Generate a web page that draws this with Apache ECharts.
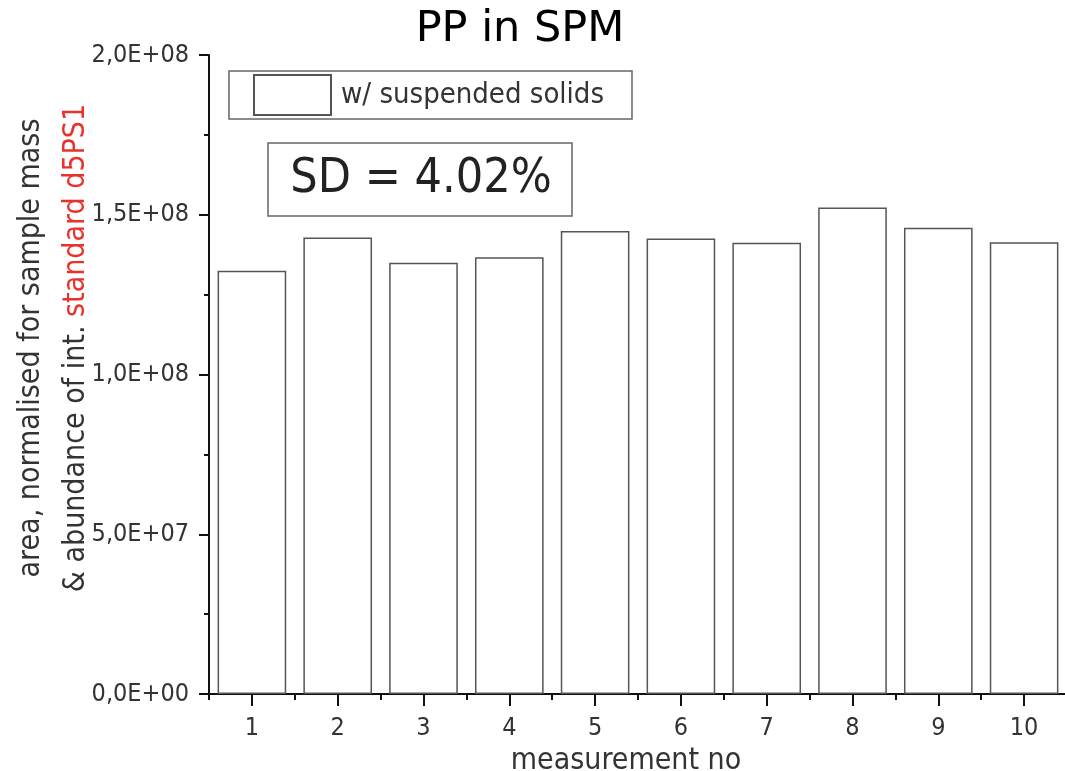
<!DOCTYPE html>
<html>
<head>
<meta charset="utf-8">
<script src="https://cdn.jsdelivr.net/npm/echarts@6/dist/echarts.min.js"></script>
<style>
    html, body { margin: 0; padding: 0; background: #fff; }
    #chart { width: 1065px; height: 771px; }
</style>
</head>
<body>
<div id="chart"></div>
<script>
var measurements = ['1', '2', '3', '4', '5', '6', '7', '8', '9', '10'];
var areas = [1.325e8, 1.429e8, 1.350e8, 1.367e8, 1.449e8, 1.426e8, 1.412e8, 1.523e8, 1.459e8, 1.414e8];
var seriesName = 'w/ suspended solids';
var sdText = 'SD = 4.02%';

var tickFont = "'DejaVu Sans Condensed', 'Liberation Sans Narrow', sans-serif";

function sciComma(v) {
    if (v === 0) return '0,0E+00';
    var e = Math.floor(Math.log10(v));
    var m = v / Math.pow(10, e);
    return m.toFixed(1).replace('.', ',') + 'E+' + (e < 10 ? '0' + e : e);
}

var chart = echarts.init(document.getElementById('chart'));

var option = {
    backgroundColor: '#fff',
    animation: false,
    title: {
        text: 'PP in SPM',
        left: 515,
        textAlign: 'center',
        top: 3,
        textStyle: {
            fontFamily: "'DejaVu Sans', sans-serif",
            fontWeight: 'normal',
            fontSize: 43,
            color: '#000'
        }
    },
    legend: {
        left: 229,
        top: 71,
        orient: 'horizontal',
        data: [seriesName],
        icon: 'rect',
        itemWidth: 77,
        itemHeight: 40,
        padding: [3, 28, 3, 24],
        borderColor: '#666',
        borderWidth: 1.5,
        textStyle: {
            fontFamily: tickFont,
            fontSize: 29,
            color: '#333',
            padding: [0, 0, 0, 5]
        }
    },
    grid: {
        left: 209,
        top: 55,
        width: 858,
        bottom: 77,
        outerBoundsMode: 'none'
    },
    xAxis: [{
        type: 'category',
        data: measurements,
        name: 'measurement no',
        nameLocation: 'middle',
        nameGap: 52,
        nameTextStyle: {
            fontFamily: tickFont,
            fontSize: 30,
            color: '#333',
            padding: [0, 24, 0, 0]
        },
        axisLine: { lineStyle: { color: '#111', width: 2 } },
        axisTick: { show: true, alignWithLabel: true, interval: 0, length: 12, lineStyle: { color: '#111', width: 2 } },
        axisLabel: {
            margin: 22,
            interval: 0,
            fontFamily: tickFont,
            fontSize: 25,
            color: '#333'
        }
    }, {
        // second category axis, only for the short ticks between categories
        type: 'category',
        data: measurements,
        position: 'bottom',
        axisLine: { show: false },
        axisTick: { show: true, interval: 0, length: 6, lineStyle: { color: '#111', width: 2 } },
        axisLabel: { show: false },
        splitLine: { show: false }
    }],
    yAxis: {
        type: 'value',
        min: 0,
        max: 2e8,
        interval: 5e7,
        axisLine: { show: true, lineStyle: { color: '#111', width: 2 } },
        axisTick: { show: true, length: 10, lineStyle: { color: '#111', width: 2 } },
        minorTick: { show: true, splitNumber: 2, length: 5, lineStyle: { color: '#111', width: 2 } },
        splitLine: { show: false },
        axisLabel: {
            margin: 20,
            fontFamily: tickFont,
            fontSize: 25,
            color: '#333',
            formatter: sciComma
        }
    },
    graphic: [{
        type: 'text',
        x: 54,
        y: 348,
        rotation: Math.PI / 2,
        style: {
            text: '{a|area, normalised for sample mass}\n{a|& abundance of int. }{r|standard d5PS1}',
            align: 'center',
            verticalAlign: 'middle',
            rich: {
                a: { fontFamily: tickFont, fontSize: 30, fill: '#333', lineHeight: 45 },
                r: { fontFamily: tickFont, fontSize: 30, fill: '#e8322b', lineHeight: 45 }
            }
        }
    }, {
        type: 'rect',
        shape: { x: 268, y: 143, width: 304, height: 73 },
        style: { fill: '#fff', stroke: '#666', lineWidth: 1.5 },
        z: 10
    }, {
        type: 'text',
        x: 421,
        y: 180,
        z: 11,
        style: {
            text: sdText,
            align: 'center',
            verticalAlign: 'middle',
            fontFamily: tickFont,
            fontSize: 48,
            fill: '#222'
        }
    }],
    series: [{
        name: seriesName,
        type: 'bar',
        xAxisIndex: 0,
        barWidth: '80%',
        data: areas,
        itemStyle: {
            color: '#fff',
            borderColor: '#555',
            borderWidth: 1.5
        }
    }]
};

chart.setOption(option);
</script>
</body>
</html>
